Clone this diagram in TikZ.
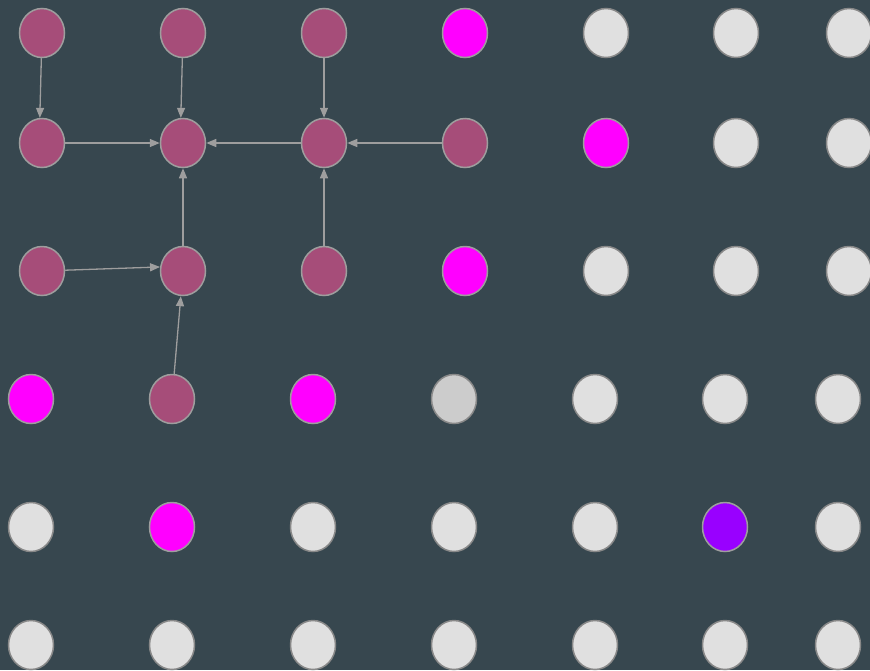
\documentclass[tikz,border=0pt]{standalone}
\usetikzlibrary{arrows.meta,shapes.geometric}
\definecolor{bg}{HTML}{37474F}
\definecolor{pinkn}{HTML}{A64D79}
\definecolor{magn}{HTML}{FF00FF}
\definecolor{lgray}{HTML}{E0E0E0}
\definecolor{mgray}{HTML}{CCCCCC}
\definecolor{purp}{HTML}{9900FF}
\definecolor{edgec}{HTML}{9E9E9E}
\definecolor{bord}{HTML}{9E9E9E}
\definecolor{dbord}{HTML}{888888}
\tikzset{
  dot/.style={ellipse, minimum width=45pt, minimum height=49pt, inner sep=0pt, line width=1.5pt},
  pk/.style={dot, fill=pinkn, draw=bord},
  mg/.style={dot, fill=magn, draw=bord},
  gy/.style={dot, fill=lgray, draw=dbord},
  dg/.style={dot, fill=mgray, draw=dbord},
  pu/.style={dot, fill=purp, draw=bord},
  conn/.style={draw=edgec, line width=1.3pt, -{Triangle[length=10pt,width=8pt]}}
}
\begin{document}
\begin{tikzpicture}[x=1pt,y=-1pt]
\fill[bg] (0,0) rectangle (870,670);
\useasboundingbox (0,0) rectangle (870,670);
% row 1
\node[pk] (n11) at (42,33) {};
\node[pk] (n12) at (183,33) {};
\node[pk] (n13) at (324,33) {};
\node[mg] (n14) at (465,33) {};
\node[gy] (n15) at (606,33) {};
\node[gy] (n16) at (736,33) {};
\node[gy] (n17) at (849,33) {};
% row 2
\node[pk] (n21) at (42,143) {};
\node[pk] (n22) at (183,143) {};
\node[pk] (n23) at (324,143) {};
\node[pk] (n24) at (465,143) {};
\node[mg] (n25) at (606,143) {};
\node[gy] (n26) at (736,143) {};
\node[gy] (n27) at (849,143) {};
% row 3
\node[pk] (n31) at (42,271) {};
\node[pk] (n32) at (183,271) {};
\node[pk] (n33) at (324,271) {};
\node[mg] (n34) at (465,271) {};
\node[gy] (n35) at (606,271) {};
\node[gy] (n36) at (736,271) {};
\node[gy] (n37) at (849,271) {};
% row 4
\node[mg] (n41) at (31,399) {};
\node[pk] (n42) at (172,399) {};
\node[mg] (n43) at (313,399) {};
\node[dg] (n44) at (454,399) {};
\node[gy] (n45) at (595,399) {};
\node[gy] (n46) at (725,399) {};
\node[gy] (n47) at (838,399) {};
% row 5
\node[gy] (n51) at (31,527) {};
\node[mg] (n52) at (172,527) {};
\node[gy] (n53) at (313,527) {};
\node[gy] (n54) at (454,527) {};
\node[gy] (n55) at (595,527) {};
\node[pu] (n56) at (725,527) {};
\node[gy] (n57) at (838,527) {};
% row 6
\node[gy] (n61) at (31,645) {};
\node[gy] (n62) at (172,645) {};
\node[gy] (n63) at (313,645) {};
\node[gy] (n64) at (454,645) {};
\node[gy] (n65) at (595,645) {};
\node[gy] (n66) at (725,645) {};
\node[gy] (n67) at (838,645) {};
% connectors
\draw[conn] (n11) -- (n21.95);
\draw[conn] (n12) -- (n22.95);
\draw[conn] (n13) -- (n23);
\draw[conn] (n21) -- (n22);
\draw[conn] (n23) -- (n22);
\draw[conn] (n24.west) -- (n23.east);
\draw[conn] (n32) -- (n22);
\draw[conn] (n33) -- (n23);
\draw[conn] (n31) -- (n32.170);
\draw[conn] (n42) -- (n32);
\end{tikzpicture}
\end{document}
